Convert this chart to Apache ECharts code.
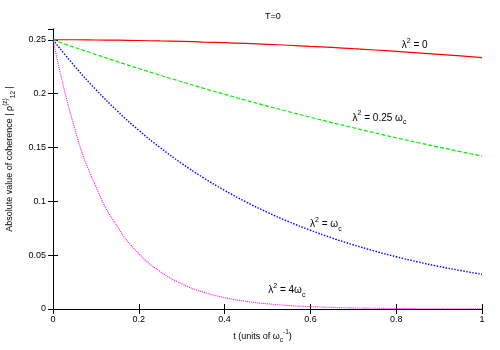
<!DOCTYPE html>
<html>
<head>
<meta charset="utf-8">
<script src="https://cdn.jsdelivr.net/npm/echarts@6/dist/echarts.min.js"></script>
<style>
  html, body { margin: 0; padding: 0; background: #fff; }
  #main { width: 500px; height: 350px; }
</style>
</head>
<body>
<div id="main"></div>
<script>
// t values (units of 1/omega_c)
var tValues = [0, 0.05, 0.1, 0.15, 0.2, 0.25, 0.3, 0.35, 0.4, 0.45, 0.5,
  0.55, 0.6, 0.65, 0.7, 0.75, 0.8, 0.85, 0.9, 0.95, 1];

// lambda^2 = 0
var lam0 = [0.25, 0.25, 0.2498, 0.2496, 0.2493, 0.2489, 0.2485, 0.2479, 0.2473, 0.2466, 0.2458,
  0.2449, 0.2439, 0.2429, 0.2417, 0.2405, 0.2392, 0.2378, 0.2364, 0.235, 0.2335];
// lambda^2 = 0.25 omega_c
var lamQuarter = [0.25, 0.243, 0.2363, 0.2297, 0.2233, 0.2171, 0.211, 0.2051, 0.1994, 0.1938, 0.1884,
  0.1832, 0.1781, 0.1731, 0.1683, 0.1636, 0.159, 0.1546, 0.1503, 0.1461, 0.142];
// lambda^2 = omega_c
var lamOne = [0.25, 0.2257, 0.2037, 0.1838, 0.1659, 0.1498, 0.1352, 0.122, 0.1101, 0.0994, 0.0897,
  0.081, 0.0731, 0.066, 0.0596, 0.0538, 0.0485, 0.0438, 0.0395, 0.0357, 0.0322];
// lambda^2 = 4 omega_c
var lamFour = [0.25, 0.1684, 0.1135, 0.0764, 0.0515, 0.0347, 0.0234, 0.0157, 0.0106, 0.0071, 0.0048,
  0.0032, 0.0022, 0.0015, 0.001, 0.0007, 0.0004, 0.0003, 0.0002, 0.0001, 0.0001];

// where the curve labels sit (data coords)
var labelPos = [[0.843, 0.2447], [0.761, 0.1774], [0.636, 0.0788], [0.545, 0.0174]];
var labelText = [
  '{g|λ}{sup|2}{g| = 0}',
  '{g|λ}{sup|2}{g| = 0.25 ω}{sub|c}',
  '{g|λ}{sup|2}{g| = ω}{sub|c}',
  '{g|λ}{sup|2}{g| = 4ω}{sub|c}'
];

var font = 'Liberation Sans, Arial, sans-serif';
var richStyle = {
  g: { fontSize: 10, lineHeight: 16, verticalAlign: 'middle', color: '#000', fontFamily: font },
  sup: { fontSize: 7, lineHeight: 8, verticalAlign: 'top', color: '#000', fontFamily: font },
  sub: { fontSize: 7, lineHeight: 8, verticalAlign: 'bottom', color: '#000', fontFamily: font }
};
// smaller variant for the axis names
var richAxis = {
  g: { fontSize: 9, lineHeight: 15, verticalAlign: 'middle', color: '#000', fontFamily: font },
  sup: { fontSize: 6.5, lineHeight: 7, verticalAlign: 'top', color: '#000', fontFamily: font },
  sub: { fontSize: 6.5, lineHeight: 7, verticalAlign: 'bottom', color: '#000', fontFamily: font }
};

function pairs(ys) {
  var out = [];
  for (var i = 0; i < tValues.length; i++) out.push([tValues[i], ys[i]]);
  return out;
}

function curveLabel(i) {
  return {
    symbol: 'circle',
    symbolSize: 1,
    silent: true,
    itemStyle: { color: 'rgba(0,0,0,0)' },
    label: {
      show: true,
      position: 'inside',
      formatter: labelText[i],
      rich: richStyle
    },
    data: [{ coord: labelPos[i] }]
  };
}

var chart = echarts.init(document.getElementById('main'), null, { renderer: 'canvas' });

var axisBase = {
  type: 'value',
  axisLine: { show: true, lineStyle: { color: '#000', width: 1 } },
  axisTick: { show: true, inside: true, length: 5, lineStyle: { color: '#000' } },
  splitLine: { show: false }
};

var option = {
  animation: false,
  backgroundColor: '#fff',
  title: {
    text: 'T=0',
    left: 268,
    top: 7,
    textAlign: 'center',
    textStyle: { fontSize: 9, fontWeight: 'normal', color: '#000', fontFamily: font }
  },
  grid: { left: 53, right: 18, top: 29, bottom: 41, outerBoundsMode: 'none', containLabel: false },
  xAxis: [
    Object.assign({}, axisBase, {
      min: 0, max: 1, interval: 0.2,
      name: '{g|t (units of ω}{sub|c}{sup|-1}{g|)}',
      nameLocation: 'middle',
      nameGap: 13,
      nameTextStyle: { rich: richAxis, padding: [0, 10, 0, 0] },
      axisLabel: { color: '#000', fontSize: 9, fontFamily: font, margin: 6 }
    }),
    Object.assign({}, axisBase, {
      position: 'top', min: 0, max: 1, interval: 0.2,
      axisLabel: { show: false }
    })
  ],
  yAxis: [
    Object.assign({}, axisBase, {
      min: 0, max: 0.26, interval: 0.05,
      name: '{g|Absolute value of coherence | ρ}{sup|(z)}{sub|12}{g| |}',
      nameLocation: 'middle',
      nameGap: 36,
      nameTextStyle: { rich: richAxis, padding: [0, 0, 0, 20] },
      axisLabel: { color: '#000', fontSize: 9, fontFamily: font, margin: 7, showMaxLabel: false }
    }),
    Object.assign({}, axisBase, {
      position: 'right', min: 0, max: 0.26, interval: 0.05,
      axisLabel: { show: false }
    })
  ],
  series: [
    {
      type: 'line', data: pairs(lam0), smooth: true, showSymbol: false,
      lineStyle: { color: '#ff0000', width: 1.2, type: 'solid' },
      markPoint: curveLabel(0)
    },
    {
      type: 'line', data: pairs(lamQuarter), smooth: true, showSymbol: false,
      lineStyle: { color: '#00ee00', width: 1.2, type: [4, 2] },
      markPoint: curveLabel(1)
    },
    {
      type: 'line', data: pairs(lamOne), smooth: true, showSymbol: false,
      lineStyle: { color: '#0000ff', width: 1.4, type: [1.5, 1.5] },
      markPoint: curveLabel(2)
    },
    {
      type: 'line', data: pairs(lamFour), smooth: true, showSymbol: false,
      lineStyle: { color: '#ff00ff', width: 1.1, type: [1, 1] },
      markPoint: curveLabel(3)
    }
  ]
};

chart.setOption(option);
</script>
</body>
</html>
